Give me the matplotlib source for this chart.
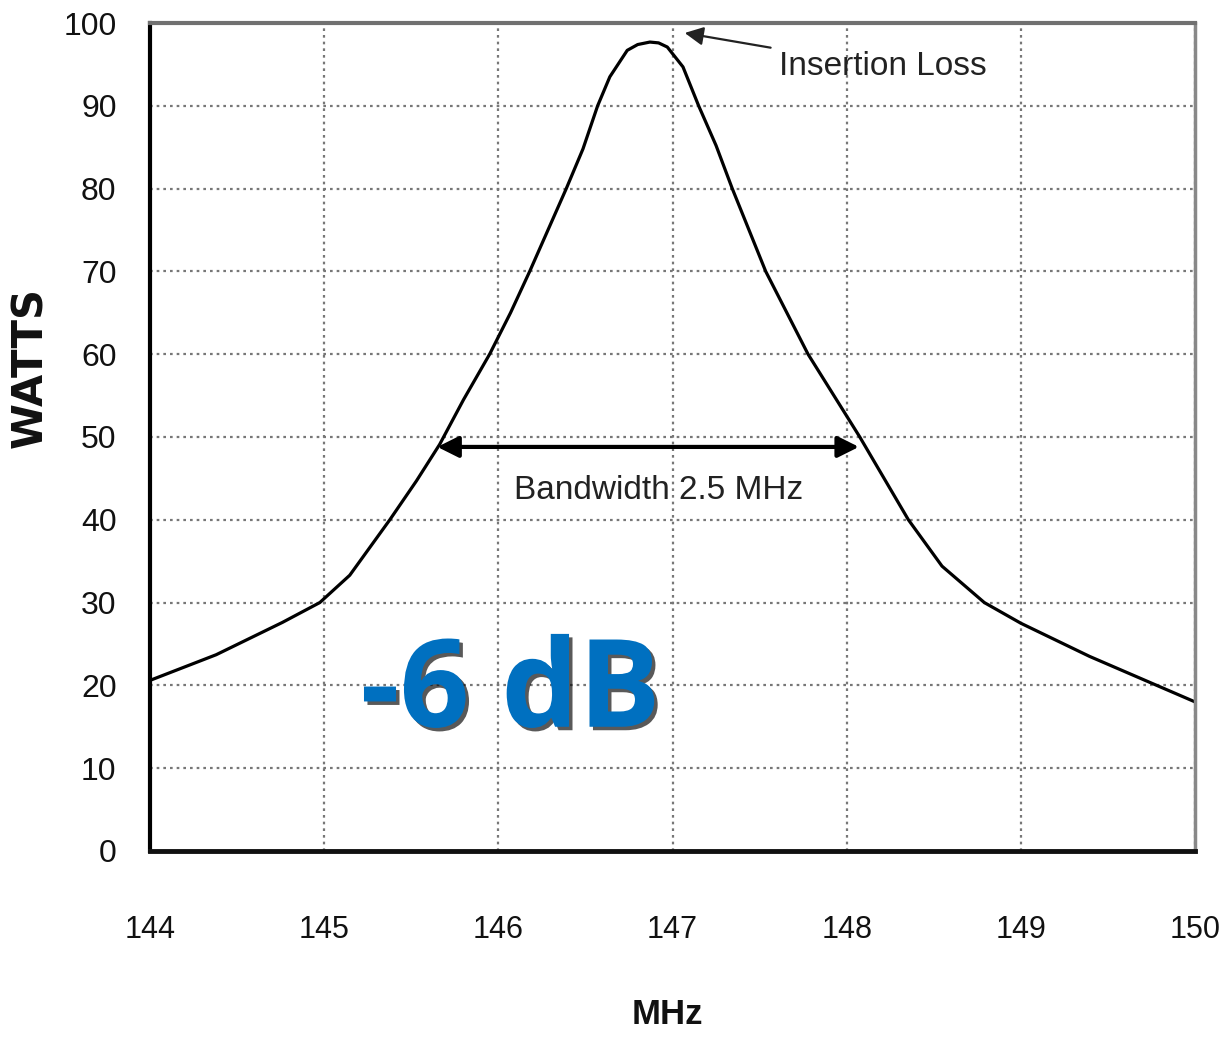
import matplotlib
matplotlib.use("Agg")
import matplotlib.pyplot as plt
import matplotlib.patheffects as pe

# Filter response (MHz, watts)
freq = [144.0, 144.38, 144.76, 144.975, 145.147, 145.377, 145.53, 145.663,
        145.8, 145.95, 146.07, 146.18, 146.39, 146.486, 146.57, 146.64,
        146.74, 146.8, 146.87, 146.92, 146.97, 147.06, 147.15, 147.25,
        147.343, 147.535, 147.778, 148.075, 148.354, 148.547, 148.79,
        149.0, 149.394, 150.0]
watts = [20.6, 23.7, 27.6, 30.0, 33.3, 40.0, 44.7, 49.1,
         54.5, 60.0, 65.0, 70.0, 80.0, 84.8, 90.0, 93.5,
         96.7, 97.4, 97.7, 97.6, 97.1, 94.7, 90.0, 85.2,
         80.0, 70.0, 60.0, 50.0, 40.0, 34.4, 30.0,
         27.5, 23.5, 18.0]

x_ticks = [144, 145, 146, 147, 148, 149, 150]
y_ticks = [0, 10, 20, 30, 40, 50, 60, 70, 80, 90, 100]

bw_lo, bw_hi, bw_level = 145.65, 148.07, 48.8
peak_tip = (147.07, 98.8)

sans = ["Liberation Sans", "DejaVu Sans"]

fig = plt.figure(figsize=(12.22, 10.37), dpi=100)
ax = fig.add_axes([0.1227, 0.1794, 0.8553, 0.7984])

ax.plot(freq, watts, color="black", lw=2.3, solid_joinstyle="round")

ax.set_xlim(144, 150)
ax.set_ylim(0, 100)
ax.set_xticks(x_ticks)
ax.set_yticks(y_ticks)
ax.grid(True, color="#777777", linestyle=(0, (1.2, 1.8)), linewidth=1.6)
ax.tick_params(length=0)
ax.tick_params(axis="x", pad=46)
ax.tick_params(axis="y", pad=24)
for lab in ax.get_xticklabels():
    lab.set_family(sans)
    lab.set_fontsize(22)
    lab.set_color("#111111")
for lab in ax.get_yticklabels():
    lab.set_family(sans)
    lab.set_fontsize(23)
    lab.set_color("#111111")

ax.spines["left"].set_linewidth(3)
ax.spines["bottom"].set_linewidth(3.5)
ax.spines["left"].set_color("black")
ax.spines["bottom"].set_color("#111111")
ax.spines["top"].set_color("#707070")
ax.spines["right"].set_color("#888888")
ax.spines["top"].set_linewidth(3)
ax.spines["right"].set_linewidth(2.5)

# bandwidth double arrow
ax.annotate("", xy=(bw_lo, bw_level), xytext=(bw_hi, bw_level),
            arrowprops=dict(arrowstyle="<|-|>", color="black", lw=3,
                            mutation_scale=32, shrinkA=0, shrinkB=0))
ax.text(146.92, 43.5, "Bandwidth 2.5 MHz", family=sans, fontsize=24,
        color="#222222", ha="center", va="center")

# insertion loss pointer
ax.annotate("Insertion Loss", xy=peak_tip, xytext=(147.61, 94.7),
            family=sans, fontsize=24, color="#222222", ha="left", va="center",
            arrowprops=dict(arrowstyle="-|>", color="#222222", lw=1.6,
                            mutation_scale=28, shrinkA=4, shrinkB=0))

ax.text(146.07, 15.0, "-6 dB", family=["Open Sans", "DejaVu Sans"],
        fontweight="bold", fontsize=88, color="#0070C0", ha="center",
        va="baseline", zorder=5,
        path_effects=[pe.withSimplePatchShadow(offset=(2.5, -2.5),
                                               shadow_rgbFace="black",
                                               alpha=0.65)])

fig.text(30 / 1222, 1 - 368 / 1037, "WATTS", rotation=90, fontsize=30,
         fontweight="bold", family=["DejaVu Sans"], color="#111111",
         ha="center", va="center")
fig.text(667 / 1222, 1 - 1015 / 1037, "MHz", fontsize=25, fontweight="bold",
         family=sans, color="#111111", ha="center", va="center")

fig.savefig("out.png", dpi=100)
